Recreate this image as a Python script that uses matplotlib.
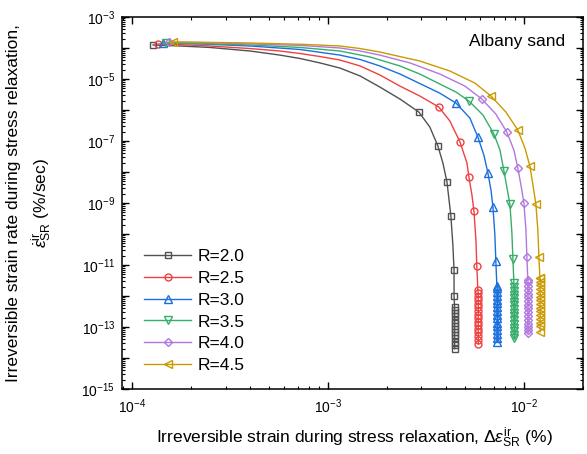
import numpy as np
import matplotlib
matplotlib.use("Agg")
import matplotlib.pyplot as plt
from matplotlib.ticker import LogLocator, NullFormatter, FuncFormatter

plt.rcParams['font.family'] = ['Liberation Sans', 'DejaVu Sans']
plt.rcParams['mathtext.fontset'] = 'custom'
plt.rcParams['mathtext.rm'] = 'Liberation Sans'
plt.rcParams['mathtext.it'] = 'Liberation Sans:italic'

labels = ['R=2.0', 'R=2.5', 'R=3.0', 'R=3.5', 'R=4.0', 'R=4.5']
colors = ['#515151', '#F14040', '#1A6FDF', '#37AD6B', '#B177DE', '#CC9900']
markers = ['s', 'o', '^', 'v', 'D', '<']
msizes = [4.5, 5.0, 6.0, 6.0, 4.5, 6.0]

# marker points (start + knee points)
mark_x_r20 = [1.28e-4, 2.91e-3, 3.64e-3, 4.05e-3, 4.24e-3, 4.40e-3, 4.40e-3]
mark_y_r20 = [1.25e-4, 8.6e-7, 6.9e-8, 4.75e-9, 3.8e-10, 6.9e-12, 1.0e-12]
mark_x_r25 = [1.36e-4, 3.68e-3, 4.72e-3, 5.24e-3, 5.56e-3, 5.75e-3, 5.82e-3]
mark_y_r25 = [1.35e-4, 1.25e-6, 9.3e-8, 6.9e-9, 5.5e-10, 9.3e-12, 1.56e-12]
mark_x_r30 = [1.44e-4, 4.50e-3, 5.82e-3, 6.55e-3, 6.95e-3, 7.19e-3, 7.28e-3]
mark_y_r30 = [1.45e-4, 1.68e-6, 1.35e-7, 9.3e-9, 7.4e-10, 1.35e-11, 2.1e-12]
mark_x_r35 = [1.49e-4, 5.24e-3, 7.03e-3, 7.91e-3, 8.48e-3, 8.79e-3, 8.89e-3]
mark_y_r35 = [1.45e-4, 1.95e-6, 1.68e-7, 1.08e-8, 9.3e-10, 1.56e-11, 2.63e-12]
mark_x_r40 = [1.545e-4, 6.10e-3, 8.18e-3, 9.31e-3, 1.0e-2, 1.036e-2, 1.047e-2]
mark_y_r40 = [1.56e-4, 2.26e-6, 1.95e-7, 1.35e-8, 1.0e-9, 1.81e-11, 3.3e-12]
mark_x_r45 = [1.62e-4, 6.79e-3, 9.31e-3, 1.073e-2, 1.151e-2, 1.193e-2, 1.207e-2]
mark_y_r45 = [1.56e-4, 2.83e-6, 2.26e-7, 1.56e-8, 9.3e-10, 1.81e-11, 3.8e-12]

# points (no markers there)
path_x_r20 = [1.76e-4, 2.50e-4, 4.0e-4, 5.69e-4, 7.2e-4, 9.1e-4, 1.15e-3, 1.46e-3,
              1.84e-3, 2.33e-3, 3.31e-3, 3.86e-3, 4.34e-3]
path_y_r20 = [1.16e-4, 1.04e-4, 8.0e-5, 5.9e-5, 4.58e-5, 3.3e-5, 2.26e-5, 1.25e-5,
              5.5e-6, 2.26e-6, 2.83e-7, 1.95e-8, 4.4e-11]
path_x_r25 = [2.22e-4, 4.0e-4, 5.69e-4, 7.2e-4, 9.1e-4, 1.15e-3, 1.46e-3, 1.84e-3,
              2.33e-3, 2.94e-3, 4.19e-3, 5.12e-3, 5.43e-3, 5.69e-3]
path_y_r25 = [1.21e-4, 9.6e-5, 8.0e-5, 6.65e-5, 5.3e-5, 4.1e-5, 2.63e-5, 1.35e-5,
              5.9e-6, 2.83e-6, 4.4e-7, 1.95e-8, 1.81e-9, 6.4e-11]
path_x_r30 = [2.22e-4, 4.0e-4, 7.2e-4, 1.15e-3, 1.46e-3, 1.84e-3, 2.33e-3, 3.05e-3,
              3.72e-3, 5.30e-3, 6.25e-3, 6.79e-3, 7.11e-3]
path_y_r30 = [1.35e-4, 1.16e-4, 8.95e-5, 5.9e-5, 4.25e-5, 2.63e-5, 1.45e-5, 6.4e-6,
              3.5e-6, 5.5e-7, 3.5e-8, 2.63e-9, 9.3e-11]
path_x_r35 = [2.22e-4, 4.0e-4, 7.2e-4, 1.15e-3, 1.64e-3, 2.33e-3, 2.94e-3, 3.72e-3,
              4.50e-3, 6.18e-3, 7.55e-3, 8.18e-3, 8.68e-3]
path_y_r35 = [1.40e-4, 1.25e-4, 1.04e-4, 8.0e-5, 5.13e-5, 2.63e-5, 1.45e-5, 6.9e-6,
              3.8e-6, 6.9e-7, 5.1e-8, 3.3e-9, 1.16e-10]
path_x_r40 = [2.22e-4, 4.0e-4, 7.2e-4, 1.15e-3, 1.46e-3, 1.84e-3, 2.62e-3, 3.72e-3,
              5.0e-3, 7.19e-3, 8.89e-3, 9.66e-3, 1.024e-2]
path_y_r40 = [1.50e-4, 1.35e-4, 1.21e-4, 1.0e-4, 8.0e-5, 5.9e-5, 3.3e-5, 1.45e-5,
              5.9e-6, 7.4e-7, 5.1e-8, 3.8e-9, 1.35e-10]
path_x_r45 = [2.22e-4, 4.0e-4, 7.2e-4, 1.15e-3, 1.46e-3, 1.84e-3, 2.94e-3, 4.19e-3,
              5.62e-3, 8.09e-3, 1.012e-2, 1.112e-2, 1.178e-2]
path_y_r45 = [1.53e-4, 1.45e-4, 1.32e-4, 1.16e-4, 9.6e-5, 7.4e-5, 3.8e-5, 1.81e-5,
              7.4e-6, 8.6e-7, 5.9e-8, 3.8e-9, 1.35e-10]

# dense tails of markers at the end of relaxation
tail_x = [4.43e-3, 5.85e-3, 7.33e-3, 8.95e-3, 1.05e-2, 1.21e-2]
tail_y_r20 = [4.5e-13, 3.5e-13, 2.8e-13, 2.2e-13, 1.75e-13, 1.4e-13, 1.1e-13, 8.5e-14,
              6.8e-14, 5.4e-14, 4.3e-14, 3.4e-14, 2.6e-14, 2.0e-14]
tail_y_r25 = [1.25e-12, 9.5e-13, 7.3e-13, 5.6e-13, 4.3e-13, 3.3e-13, 2.5e-13, 1.9e-13,
              1.5e-13, 1.15e-13, 8.8e-14, 6.7e-14, 5.1e-14, 3.9e-14, 2.9e-14]
tail_y_r30 = [1.8e-12, 1.35e-12, 1.0e-12, 7.7e-13, 5.8e-13, 4.4e-13, 3.3e-13, 2.5e-13,
              1.9e-13, 1.4e-13, 1.07e-13, 8.0e-14, 6.0e-14, 4.5e-14, 3.3e-14]
tail_y_r35 = [1.95e-12, 1.5e-12, 1.1e-12, 8.5e-13, 6.5e-13, 5.0e-13, 3.8e-13, 2.9e-13,
              2.2e-13, 1.65e-13, 1.25e-13, 9.5e-14, 7.3e-14, 5.6e-14, 4.5e-14]
tail_y_r40 = [2.8e-12, 2.1e-12, 1.6e-12, 1.2e-12, 9.2e-13, 7.0e-13, 5.3e-13, 4.0e-13,
              3.0e-13, 2.3e-13, 1.75e-13, 1.3e-13, 1.0e-13, 7.8e-14, 6.5e-14]
tail_y_r45 = [3.8e-12, 2.9e-12, 2.2e-12, 1.65e-12, 1.25e-12, 9.5e-13, 7.2e-13, 5.5e-13,
              4.2e-13, 3.2e-13, 2.4e-13, 1.8e-13, 1.4e-13, 1.05e-13, 7.0e-14]

mark_x = [mark_x_r20, mark_x_r25, mark_x_r30, mark_x_r35, mark_x_r40, mark_x_r45]
mark_y = [mark_y_r20, mark_y_r25, mark_y_r30, mark_y_r35, mark_y_r40, mark_y_r45]
path_x = [path_x_r20, path_x_r25, path_x_r30, path_x_r35, path_x_r40, path_x_r45]
path_y = [path_y_r20, path_y_r25, path_y_r30, path_y_r35, path_y_r40, path_y_r45]
tail_y = [tail_y_r20, tail_y_r25, tail_y_r30, tail_y_r35, tail_y_r40, tail_y_r45]

fig = plt.figure(figsize=(5.87, 4.54), dpi=100)
ax = fig.add_axes([0.208, 0.143, 0.785, 0.8196])

for i in range(6):
    mx = list(mark_x[i]) + [tail_x[i]] * len(tail_y[i])
    my = list(mark_y[i]) + list(tail_y[i])
    xs = np.array(mx + list(path_x[i]))
    ys = np.array(my + list(path_y[i]))
    is_mark = np.array([True] * len(mx) + [False] * len(path_x[i]))
    order = np.argsort(-ys, kind='stable')
    xs, ys, is_mark = xs[order], ys[order], is_mark[order]
    me = list(np.where(is_mark)[0])
    ax.plot(xs, ys, color=colors[i], lw=1.0, marker=markers[i], markevery=me,
            markersize=msizes[i], markerfacecolor='none', markeredgecolor=colors[i],
            markeredgewidth=1.0, label=labels[i])

ax.set_xscale('log')
ax.set_yscale('log')
ax.set_xlim(8.9e-5, 2.0e-2)
ax.set_ylim(1e-15, 1e-3)

ax.xaxis.set_major_locator(LogLocator(base=10, numticks=20))
ax.xaxis.set_minor_locator(LogLocator(base=10, subs=np.arange(2, 10), numticks=100))
ax.xaxis.set_minor_formatter(NullFormatter())
ax.yaxis.set_major_locator(LogLocator(base=10, subs=(1.0,), numticks=30))
ax.yaxis.set_minor_locator(LogLocator(base=10, subs=np.arange(2, 10), numticks=200))
ax.yaxis.set_minor_formatter(NullFormatter())


def yfmt(v, pos):
    e = int(round(np.log10(v)))
    if e % 2 == 0:
        return ''
    return r'$10^{%d}$' % e


def xfmt(v, pos):
    e = int(round(np.log10(v)))
    return r'$10^{%d}$' % e


ax.yaxis.set_major_formatter(FuncFormatter(yfmt))
ax.xaxis.set_major_formatter(FuncFormatter(xfmt))

ax.tick_params(which='both', direction='in', top=True, right=True, labelsize=10)
ax.tick_params(which='major', length=5, width=1.0)
ax.tick_params(which='minor', length=2.5, width=0.8)
ax.tick_params(axis='x', pad=6)
ax.tick_params(axis='y', pad=5)
for sp in ax.spines.values():
    sp.set_linewidth(1.1)

ax.set_xlabel(r'Irreversible strain during stress relaxation, $\Delta\varepsilon_{\rm SR}^{\rm ir}$ (%)',
              fontsize=12.5)
ax.xaxis.set_label_coords(0.505, -0.132)
ax.xaxis.label.set_va('center')

ax.set_ylabel('Irreversible strain rate during stress relaxation,\n'
              r'$\dot{\varepsilon}^{\rm ir}_{\rm SR}$ (%/sec)', fontsize=12.5, linespacing=1.5)
ax.yaxis.set_label_coords(-0.2, 0.5)
ax.yaxis.label.set_va('center')

ax.text(0.961, 0.933, 'Albany sand', transform=ax.transAxes, ha='right', va='center',
        fontsize=12.5)

ax.legend(loc='upper left', bbox_to_anchor=(0.048, 0.376), frameon=False, fontsize=12.5,
          handlelength=2.7, handletextpad=0.4, labelspacing=0.38, borderpad=0,
          borderaxespad=0, numpoints=1)

fig.savefig('out.png', dpi=100)
